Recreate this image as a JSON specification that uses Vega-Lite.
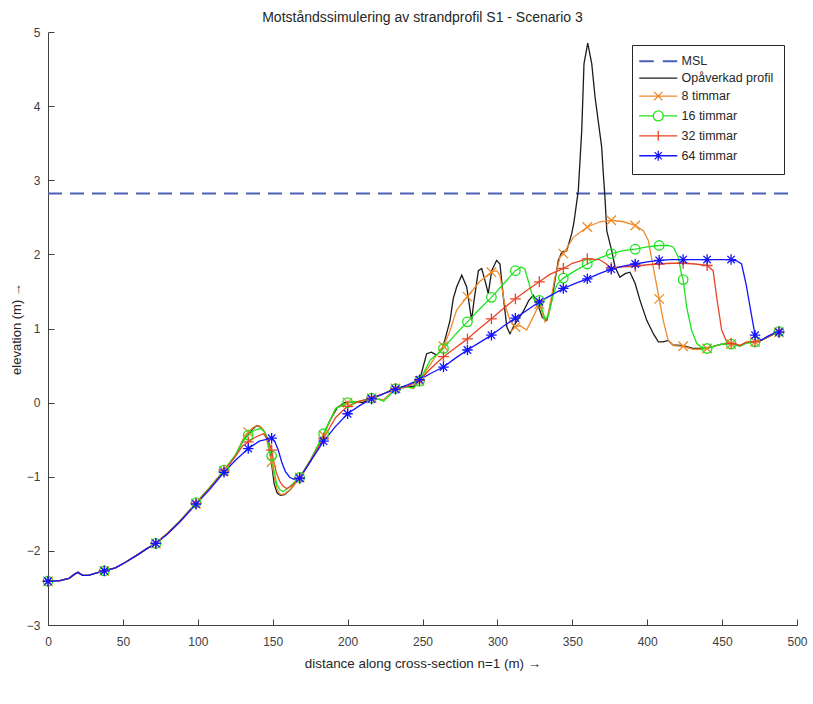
{
  "$schema": "https://vega.github.io/schema/vega-lite/v6.json",
  "width": 749,
  "height": 593,
  "autosize": {"type": "none"},
  "padding": {"left": 48, "top": 32, "right": 16, "bottom": 79},
  "background": "white",
  "config": {"view": {"stroke": null}, "font": "Liberation Sans"},
  "title": {"text": "Motståndssimulering av strandprofil S1 - Scenario 3", "fontSize": 14, "fontWeight": "normal", "color": "#262626", "offset": 1, "anchor": "middle", "font": "Liberation Sans"},
  "data": {"values": [
    {"s":"MSL","x":0,"y":2.82},{"s":"MSL","x":494,"y":2.82},

    {"s":"Opåverkad profil","x":0,"y":-2.41},{"s":"Opåverkad profil","x":8,"y":-2.40},{"s":"Opåverkad profil","x":14,"y":-2.37},{"s":"Opåverkad profil","x":18,"y":-2.31},{"s":"Opåverkad profil","x":20,"y":-2.29},{"s":"Opåverkad profil","x":23,"y":-2.33},{"s":"Opåverkad profil","x":27,"y":-2.33},{"s":"Opåverkad profil","x":32,"y":-2.30},{"s":"Opåverkad profil","x":37.6,"y":-2.27},{"s":"Opåverkad profil","x":45,"y":-2.23},{"s":"Opåverkad profil","x":52,"y":-2.15},{"s":"Opåverkad profil","x":60,"y":-2.05},{"s":"Opåverkad profil","x":66,"y":-1.97},{"s":"Opåverkad profil","x":72,"y":-1.90},{"s":"Opåverkad profil","x":80,"y":-1.76},{"s":"Opåverkad profil","x":88,"y":-1.60},{"s":"Opåverkad profil","x":98.8,"y":-1.36},{"s":"Opåverkad profil","x":108,"y":-1.15},{"s":"Opåverkad profil","x":117.5,"y":-0.92},{"s":"Opåverkad profil","x":125,"y":-0.72},
    {"s":"Opåverkad profil","x":130,"y":-0.52},{"s":"Opåverkad profil","x":134,"y":-0.42},{"s":"Opåverkad profil","x":137,"y":-0.35},{"s":"Opåverkad profil","x":139.5,"y":-0.31},{"s":"Opåverkad profil","x":142,"y":-0.33},{"s":"Opåverkad profil","x":144,"y":-0.38},{"s":"Opåverkad profil","x":146,"y":-0.46},{"s":"Opåverkad profil","x":148,"y":-0.65},{"s":"Opåverkad profil","x":149.5,"y":-0.86},{"s":"Opåverkad profil","x":151,"y":-1.10},{"s":"Opåverkad profil","x":153,"y":-1.22},{"s":"Opåverkad profil","x":155,"y":-1.25},{"s":"Opåverkad profil","x":158,"y":-1.24},{"s":"Opåverkad profil","x":162,"y":-1.17},{"s":"Opåverkad profil","x":168,"y":-1.01},{"s":"Opåverkad profil","x":175,"y":-0.80},{"s":"Opåverkad profil","x":183,"y":-0.47},{"s":"Opåverkad profil","x":188,"y":-0.25},{"s":"Opåverkad profil","x":193,"y":-0.07},{"s":"Opåverkad profil","x":198,"y":0.0},{"s":"Opåverkad profil","x":205,"y":0.01},{"s":"Opåverkad profil","x":210,"y":0.0},{"s":"Opåverkad profil","x":216,"y":0.06},{"s":"Opåverkad profil","x":222,"y":0.10},{"s":"Opåverkad profil","x":228,"y":0.16},{"s":"Opåverkad profil","x":232,"y":0.19},{"s":"Opåverkad profil","x":238,"y":0.22},{"s":"Opåverkad profil","x":244,"y":0.22},{"s":"Opåverkad profil","x":248,"y":0.30},{"s":"Opåverkad profil","x":250,"y":0.45},{"s":"Opåverkad profil","x":252.8,"y":0.66},{"s":"Opåverkad profil","x":256,"y":0.68},{"s":"Opåverkad profil","x":259.4,"y":0.64},{"s":"Opåverkad profil","x":262.8,"y":0.71},{"s":"Opåverkad profil","x":265,"y":0.85},{"s":"Opåverkad profil","x":268.4,"y":1.11},{"s":"Opåverkad profil","x":270.5,"y":1.40},{"s":"Opåverkad profil","x":272.8,"y":1.56},{"s":"Opåverkad profil","x":276.2,"y":1.72},{"s":"Opåverkad profil","x":279.5,"y":1.56},{"s":"Opåverkad profil","x":282.8,"y":1.11},{"s":"Opåverkad profil","x":284.4,"y":1.38},{"s":"Opåverkad profil","x":287.3,"y":1.78},{"s":"Opåverkad profil","x":289.5,"y":1.81},{"s":"Opåverkad profil","x":291.7,"y":1.65},{"s":"Opåverkad profil","x":293.9,"y":1.47},{"s":"Opåverkad profil","x":296.2,"y":1.78},{"s":"Opåverkad profil","x":299.5,"y":1.92},{"s":"Opåverkad profil","x":301.7,"y":1.87},{"s":"Opåverkad profil","x":304,"y":1.42},{"s":"Opåverkad profil","x":306.3,"y":1.02},{"s":"Opåverkad profil","x":308.4,"y":0.93},{"s":"Opåverkad profil","x":310.6,"y":1.02},{"s":"Opåverkad profil","x":313,"y":1.10},{"s":"Opåverkad profil","x":317,"y":1.22},{"s":"Opåverkad profil","x":321,"y":1.38},{"s":"Opåverkad profil","x":324,"y":1.45},{"s":"Opåverkad profil","x":327,"y":1.32},{"s":"Opåverkad profil","x":330,"y":1.15},{"s":"Opåverkad profil","x":332.9,"y":1.11},{"s":"Opåverkad profil","x":336.2,"y":1.38},{"s":"Opåverkad profil","x":340.7,"y":1.92},{"s":"Opåverkad profil","x":343,"y":2.03},{"s":"Opåverkad profil","x":346.3,"y":2.05},{"s":"Opåverkad profil","x":349.6,"y":2.28},{"s":"Opåverkad profil","x":351,"y":2.42},{"s":"Opåverkad profil","x":354,"y":2.86},{"s":"Opåverkad profil","x":356.3,"y":3.67},{"s":"Opåverkad profil","x":357.8,"y":4.57},{"s":"Opåverkad profil","x":360.3,"y":4.85},{"s":"Opåverkad profil","x":363,"y":4.57},{"s":"Opåverkad profil","x":365.2,"y":4.12},{"s":"Opåverkad profil","x":369.6,"y":3.45},{"s":"Opåverkad profil","x":370.7,"y":3.09},{"s":"Opåverkad profil","x":371.8,"y":2.77},{"s":"Opåverkad profil","x":373,"y":2.32},{"s":"Opåverkad profil","x":376.3,"y":2.05},{"s":"Opåverkad profil","x":378.5,"y":1.83},{"s":"Opåverkad profil","x":381.8,"y":1.69},{"s":"Opåverkad profil","x":385.2,"y":1.74},{"s":"Opåverkad profil","x":388.5,"y":1.76},{"s":"Opåverkad profil","x":391.9,"y":1.61},{"s":"Opåverkad profil","x":395.2,"y":1.38},{"s":"Opåverkad profil","x":399.7,"y":1.11},{"s":"Opåverkad profil","x":404.1,"y":0.93},{"s":"Opåverkad profil","x":407.4,"y":0.82},{"s":"Opåverkad profil","x":410.7,"y":0.82},{"s":"Opåverkad profil","x":414,"y":0.84},{"s":"Opåverkad profil","x":417,"y":0.78},{"s":"Opåverkad profil","x":424,"y":0.77},{"s":"Opåverkad profil","x":431,"y":0.73},{"s":"Opåverkad profil","x":437,"y":0.73},{"s":"Opåverkad profil","x":444,"y":0.76},{"s":"Opåverkad profil","x":450,"y":0.79},{"s":"Opåverkad profil","x":456,"y":0.80},{"s":"Opåverkad profil","x":462,"y":0.77},{"s":"Opåverkad profil","x":466,"y":0.81},{"s":"Opåverkad profil","x":472,"y":0.82},{"s":"Opåverkad profil","x":476,"y":0.84},{"s":"Opåverkad profil","x":480,"y":0.88},{"s":"Opåverkad profil","x":484,"y":0.92},{"s":"Opåverkad profil","x":488,"y":0.95},{"s":"Opåverkad profil","x":490,"y":1.0},

    {"s":"8 timmar","x":0,"y":-2.41,"m":1},{"s":"8 timmar","x":8,"y":-2.40},{"s":"8 timmar","x":14,"y":-2.37},{"s":"8 timmar","x":18,"y":-2.31},{"s":"8 timmar","x":20,"y":-2.29},{"s":"8 timmar","x":23,"y":-2.33},{"s":"8 timmar","x":27,"y":-2.33},{"s":"8 timmar","x":32,"y":-2.30},{"s":"8 timmar","x":37.6,"y":-2.27,"m":1},{"s":"8 timmar","x":45,"y":-2.23},{"s":"8 timmar","x":52,"y":-2.15},{"s":"8 timmar","x":60,"y":-2.05},{"s":"8 timmar","x":66,"y":-1.97},{"s":"8 timmar","x":72,"y":-1.90,"m":1},{"s":"8 timmar","x":80,"y":-1.76},{"s":"8 timmar","x":88,"y":-1.60},{"s":"8 timmar","x":98.8,"y":-1.36,"m":1},{"s":"8 timmar","x":108,"y":-1.15},{"s":"8 timmar","x":117.5,"y":-0.92,"m":1},{"s":"8 timmar","x":125,"y":-0.72},
    {"s":"8 timmar","x":130,"y":-0.50},{"s":"8 timmar","x":133.7,"y":-0.40,"m":1},{"s":"8 timmar","x":138,"y":-0.32},{"s":"8 timmar","x":141,"y":-0.31},{"s":"8 timmar","x":144,"y":-0.37},{"s":"8 timmar","x":146,"y":-0.50},{"s":"8 timmar","x":147.5,"y":-0.65},{"s":"8 timmar","x":149.3,"y":-0.80,"m":1},{"s":"8 timmar","x":151,"y":-1.0},{"s":"8 timmar","x":153,"y":-1.17},{"s":"8 timmar","x":155,"y":-1.24},{"s":"8 timmar","x":158,"y":-1.23},{"s":"8 timmar","x":162,"y":-1.17},{"s":"8 timmar","x":168,"y":-1.01,"m":1},{"s":"8 timmar","x":175,"y":-0.78},{"s":"8 timmar","x":184,"y":-0.44,"m":1},{"s":"8 timmar","x":192,"y":-0.08},{"s":"8 timmar","x":200,"y":0.0,"m":1},{"s":"8 timmar","x":208,"y":0.01},{"s":"8 timmar","x":216,"y":0.06,"m":1},{"s":"8 timmar","x":224,"y":0.04},{"s":"8 timmar","x":232,"y":0.19,"m":1},{"s":"8 timmar","x":240,"y":0.21},{"s":"8 timmar","x":244,"y":0.19},{"s":"8 timmar","x":248,"y":0.29,"m":1},{"s":"8 timmar","x":254,"y":0.48},{"s":"8 timmar","x":258,"y":0.60},{"s":"8 timmar","x":264,"y":0.76,"m":1},{"s":"8 timmar","x":268,"y":0.95},{"s":"8 timmar","x":272.8,"y":1.25},{"s":"8 timmar","x":280,"y":1.43,"m":1},{"s":"8 timmar","x":288,"y":1.63},{"s":"8 timmar","x":296,"y":1.76,"m":1},{"s":"8 timmar","x":299.5,"y":1.78},{"s":"8 timmar","x":301.7,"y":1.72},{"s":"8 timmar","x":304.7,"y":1.34},{"s":"8 timmar","x":308.4,"y":1.11},{"s":"8 timmar","x":312,"y":1.02,"m":1},{"s":"8 timmar","x":315,"y":1.04},{"s":"8 timmar","x":319.5,"y":0.98},{"s":"8 timmar","x":324,"y":1.16},{"s":"8 timmar","x":328,"y":1.33,"m":1},{"s":"8 timmar","x":331.8,"y":1.09},{"s":"8 timmar","x":334,"y":1.20},{"s":"8 timmar","x":338.5,"y":1.70},{"s":"8 timmar","x":341.8,"y":1.96},{"s":"8 timmar","x":344,"y":2.01,"m":1},{"s":"8 timmar","x":350.7,"y":2.23},{"s":"8 timmar","x":360,"y":2.37,"m":1},{"s":"8 timmar","x":368.5,"y":2.44},{"s":"8 timmar","x":376,"y":2.46,"m":1},{"s":"8 timmar","x":384.2,"y":2.44},{"s":"8 timmar","x":392,"y":2.39,"m":1},{"s":"8 timmar","x":397.4,"y":2.32},{"s":"8 timmar","x":400.7,"y":2.19},{"s":"8 timmar","x":404,"y":1.83},{"s":"8 timmar","x":408,"y":1.40,"m":1},{"s":"8 timmar","x":410.7,"y":1.11},{"s":"8 timmar","x":414,"y":0.84},{"s":"8 timmar","x":417.4,"y":0.77},{"s":"8 timmar","x":424,"y":0.76,"m":1},{"s":"8 timmar","x":430.8,"y":0.72},{"s":"8 timmar","x":436,"y":0.72},{"s":"8 timmar","x":440,"y":0.73,"m":1},{"s":"8 timmar","x":446,"y":0.77},{"s":"8 timmar","x":452,"y":0.80},{"s":"8 timmar","x":456,"y":0.79,"m":1},{"s":"8 timmar","x":462,"y":0.77},{"s":"8 timmar","x":466,"y":0.81},{"s":"8 timmar","x":472,"y":0.82,"m":1},{"s":"8 timmar","x":476,"y":0.84},{"s":"8 timmar","x":480,"y":0.88},{"s":"8 timmar","x":484,"y":0.92},{"s":"8 timmar","x":488,"y":0.95,"m":1},{"s":"8 timmar","x":490,"y":0.99},

    {"s":"16 timmar","x":0,"y":-2.41,"m":1},{"s":"16 timmar","x":8,"y":-2.40},{"s":"16 timmar","x":14,"y":-2.37},{"s":"16 timmar","x":18,"y":-2.31},{"s":"16 timmar","x":20,"y":-2.29},{"s":"16 timmar","x":23,"y":-2.33},{"s":"16 timmar","x":27,"y":-2.33},{"s":"16 timmar","x":32,"y":-2.30},{"s":"16 timmar","x":37.6,"y":-2.27,"m":1},{"s":"16 timmar","x":45,"y":-2.23},{"s":"16 timmar","x":52,"y":-2.15},{"s":"16 timmar","x":60,"y":-2.05},{"s":"16 timmar","x":66,"y":-1.97},{"s":"16 timmar","x":72,"y":-1.90,"m":1},{"s":"16 timmar","x":80,"y":-1.76},{"s":"16 timmar","x":88,"y":-1.60},{"s":"16 timmar","x":98.8,"y":-1.35,"m":1},{"s":"16 timmar","x":108,"y":-1.14},{"s":"16 timmar","x":117.5,"y":-0.91,"m":1},{"s":"16 timmar","x":125,"y":-0.71},
    {"s":"16 timmar","x":130,"y":-0.52},{"s":"16 timmar","x":133.7,"y":-0.44,"m":1},{"s":"16 timmar","x":138,"y":-0.37},{"s":"16 timmar","x":142,"y":-0.35},{"s":"16 timmar","x":145,"y":-0.40},{"s":"16 timmar","x":147,"y":-0.55},{"s":"16 timmar","x":149.3,"y":-0.72,"m":1},{"s":"16 timmar","x":150.5,"y":-0.88},{"s":"16 timmar","x":152.7,"y":-1.10},{"s":"16 timmar","x":155,"y":-1.18},{"s":"16 timmar","x":157,"y":-1.20},{"s":"16 timmar","x":160,"y":-1.16},{"s":"16 timmar","x":164,"y":-1.08},{"s":"16 timmar","x":168,"y":-1.01,"m":1},{"s":"16 timmar","x":175,"y":-0.78},{"s":"16 timmar","x":184,"y":-0.42,"m":1},{"s":"16 timmar","x":192,"y":-0.08},{"s":"16 timmar","x":200,"y":0.0,"m":1},{"s":"16 timmar","x":208,"y":0.02},{"s":"16 timmar","x":216,"y":0.06,"m":1},{"s":"16 timmar","x":220,"y":0.05},{"s":"16 timmar","x":224,"y":0.02},{"s":"16 timmar","x":228,"y":0.10},{"s":"16 timmar","x":232,"y":0.19,"m":1},{"s":"16 timmar","x":240,"y":0.21},{"s":"16 timmar","x":244,"y":0.20},{"s":"16 timmar","x":248,"y":0.29,"m":1},{"s":"16 timmar","x":255,"y":0.57},{"s":"16 timmar","x":264,"y":0.73,"m":1},{"s":"16 timmar","x":272,"y":0.92},{"s":"16 timmar","x":280,"y":1.09,"m":1},{"s":"16 timmar","x":288,"y":1.26},{"s":"16 timmar","x":296,"y":1.42,"m":1},{"s":"16 timmar","x":304,"y":1.60},{"s":"16 timmar","x":312,"y":1.78,"m":1},{"s":"16 timmar","x":316,"y":1.83},{"s":"16 timmar","x":318.4,"y":1.80},{"s":"16 timmar","x":320.5,"y":1.65},{"s":"16 timmar","x":324,"y":1.40},{"s":"16 timmar","x":328,"y":1.38,"m":1},{"s":"16 timmar","x":331.8,"y":1.13},{"s":"16 timmar","x":334,"y":1.16},{"s":"16 timmar","x":337.4,"y":1.47},{"s":"16 timmar","x":340,"y":1.60},{"s":"16 timmar","x":344,"y":1.68,"m":1},{"s":"16 timmar","x":352,"y":1.78},{"s":"16 timmar","x":360,"y":1.87,"m":1},{"s":"16 timmar","x":368,"y":1.95},{"s":"16 timmar","x":376,"y":2.01,"m":1},{"s":"16 timmar","x":384,"y":2.05},{"s":"16 timmar","x":392,"y":2.07,"m":1},{"s":"16 timmar","x":400,"y":2.10},{"s":"16 timmar","x":408,"y":2.12,"m":1},{"s":"16 timmar","x":414,"y":2.12},{"s":"16 timmar","x":417.4,"y":2.10},{"s":"16 timmar","x":420.8,"y":1.96},{"s":"16 timmar","x":423,"y":1.72},{"s":"16 timmar","x":424,"y":1.66,"m":1},{"s":"16 timmar","x":426.3,"y":1.29},{"s":"16 timmar","x":429.6,"y":0.98},{"s":"16 timmar","x":433,"y":0.80},{"s":"16 timmar","x":436,"y":0.75},{"s":"16 timmar","x":440,"y":0.73,"m":1},{"s":"16 timmar","x":446,"y":0.77},{"s":"16 timmar","x":452,"y":0.80},{"s":"16 timmar","x":456,"y":0.79,"m":1},{"s":"16 timmar","x":462,"y":0.76},{"s":"16 timmar","x":466,"y":0.80},{"s":"16 timmar","x":472,"y":0.82,"m":1},{"s":"16 timmar","x":476,"y":0.84},{"s":"16 timmar","x":480,"y":0.88},{"s":"16 timmar","x":484,"y":0.92},{"s":"16 timmar","x":488,"y":0.96,"m":1},{"s":"16 timmar","x":490,"y":0.99},

    {"s":"32 timmar","x":0,"y":-2.41,"m":1},{"s":"32 timmar","x":8,"y":-2.40},{"s":"32 timmar","x":14,"y":-2.37},{"s":"32 timmar","x":18,"y":-2.31},{"s":"32 timmar","x":20,"y":-2.29},{"s":"32 timmar","x":23,"y":-2.33},{"s":"32 timmar","x":27,"y":-2.33},{"s":"32 timmar","x":32,"y":-2.30},{"s":"32 timmar","x":37.6,"y":-2.27,"m":1},{"s":"32 timmar","x":45,"y":-2.23},{"s":"32 timmar","x":52,"y":-2.15},{"s":"32 timmar","x":60,"y":-2.05},{"s":"32 timmar","x":66,"y":-1.97},{"s":"32 timmar","x":72,"y":-1.90,"m":1},{"s":"32 timmar","x":80,"y":-1.76},{"s":"32 timmar","x":88,"y":-1.60},{"s":"32 timmar","x":98.8,"y":-1.36,"m":1},{"s":"32 timmar","x":108,"y":-1.15},{"s":"32 timmar","x":117.5,"y":-0.92,"m":1},{"s":"32 timmar","x":125,"y":-0.73},
    {"s":"32 timmar","x":130,"y":-0.58},{"s":"32 timmar","x":133.7,"y":-0.53,"m":1},{"s":"32 timmar","x":138,"y":-0.47},{"s":"32 timmar","x":143.7,"y":-0.42},{"s":"32 timmar","x":147,"y":-0.50},{"s":"32 timmar","x":149.3,"y":-0.64,"m":1},{"s":"32 timmar","x":150.4,"y":-0.77},{"s":"32 timmar","x":152.5,"y":-0.95},{"s":"32 timmar","x":154.9,"y":-1.07},{"s":"32 timmar","x":157,"y":-1.13},{"s":"32 timmar","x":159.3,"y":-1.16},{"s":"32 timmar","x":163,"y":-1.12},{"s":"32 timmar","x":168,"y":-1.02,"m":1},{"s":"32 timmar","x":175,"y":-0.79},{"s":"32 timmar","x":184,"y":-0.48,"m":1},{"s":"32 timmar","x":192,"y":-0.20},{"s":"32 timmar","x":200,"y":-0.05,"m":1},{"s":"32 timmar","x":208,"y":0.02},{"s":"32 timmar","x":216,"y":0.06,"m":1},{"s":"32 timmar","x":224,"y":0.12},{"s":"32 timmar","x":232,"y":0.19,"m":1},{"s":"32 timmar","x":240,"y":0.22},{"s":"32 timmar","x":248,"y":0.30,"m":1},{"s":"32 timmar","x":256,"y":0.47},{"s":"32 timmar","x":264,"y":0.62,"m":1},{"s":"32 timmar","x":272,"y":0.74},{"s":"32 timmar","x":280,"y":0.86,"m":1},{"s":"32 timmar","x":288,"y":1.00},{"s":"32 timmar","x":296,"y":1.13,"m":1},{"s":"32 timmar","x":304,"y":1.27},{"s":"32 timmar","x":312,"y":1.40,"m":1},{"s":"32 timmar","x":320,"y":1.52},{"s":"32 timmar","x":328,"y":1.63,"m":1},{"s":"32 timmar","x":335,"y":1.73},{"s":"32 timmar","x":344,"y":1.81,"m":1},{"s":"32 timmar","x":350,"y":1.88},{"s":"32 timmar","x":360,"y":1.94,"m":1},{"s":"32 timmar","x":368,"y":1.93},{"s":"32 timmar","x":372,"y":1.88},{"s":"32 timmar","x":376,"y":1.82,"m":1},{"s":"32 timmar","x":384,"y":1.83},{"s":"32 timmar","x":392,"y":1.84,"m":1},{"s":"32 timmar","x":400,"y":1.86},{"s":"32 timmar","x":408,"y":1.87,"m":1},{"s":"32 timmar","x":416,"y":1.88},{"s":"32 timmar","x":424,"y":1.88,"m":1},{"s":"32 timmar","x":432,"y":1.87},{"s":"32 timmar","x":440,"y":1.85,"m":1},{"s":"32 timmar","x":444,"y":1.78},{"s":"32 timmar","x":446.4,"y":1.42},{"s":"32 timmar","x":449.7,"y":0.98},{"s":"32 timmar","x":453,"y":0.82},{"s":"32 timmar","x":456,"y":0.80,"m":1},{"s":"32 timmar","x":462,"y":0.77},{"s":"32 timmar","x":466.4,"y":0.82},{"s":"32 timmar","x":472,"y":0.82,"m":1},{"s":"32 timmar","x":476,"y":0.84},{"s":"32 timmar","x":480,"y":0.88},{"s":"32 timmar","x":484,"y":0.92},{"s":"32 timmar","x":488,"y":0.95,"m":1},{"s":"32 timmar","x":490,"y":0.99},

    {"s":"64 timmar","x":0,"y":-2.41,"m":1},{"s":"64 timmar","x":8,"y":-2.40},{"s":"64 timmar","x":14,"y":-2.37},{"s":"64 timmar","x":18,"y":-2.31},{"s":"64 timmar","x":20,"y":-2.29},{"s":"64 timmar","x":23,"y":-2.33},{"s":"64 timmar","x":27,"y":-2.33},{"s":"64 timmar","x":32,"y":-2.30},{"s":"64 timmar","x":37.6,"y":-2.27,"m":1},{"s":"64 timmar","x":45,"y":-2.23},{"s":"64 timmar","x":52,"y":-2.15},{"s":"64 timmar","x":60,"y":-2.05},{"s":"64 timmar","x":66,"y":-1.97},{"s":"64 timmar","x":72,"y":-1.90,"m":1},{"s":"64 timmar","x":80,"y":-1.77},{"s":"64 timmar","x":88,"y":-1.61},{"s":"64 timmar","x":98.8,"y":-1.37,"m":1},{"s":"64 timmar","x":108,"y":-1.17},{"s":"64 timmar","x":117.5,"y":-0.94,"m":1},{"s":"64 timmar","x":125,"y":-0.78},{"s":"64 timmar","x":133.7,"y":-0.62,"m":1},{"s":"64 timmar","x":141,"y":-0.52},{"s":"64 timmar","x":149.3,"y":-0.48,"m":1},{"s":"64 timmar","x":151.5,"y":-0.53},{"s":"64 timmar","x":153.7,"y":-0.64},{"s":"64 timmar","x":156,"y":-0.80},{"s":"64 timmar","x":158.5,"y":-0.93},{"s":"64 timmar","x":161.5,"y":-1.01},{"s":"64 timmar","x":165,"y":-1.04},{"s":"64 timmar","x":168,"y":-1.02,"m":1},{"s":"64 timmar","x":175,"y":-0.80},{"s":"64 timmar","x":184,"y":-0.52,"m":1},{"s":"64 timmar","x":192,"y":-0.32},{"s":"64 timmar","x":200,"y":-0.15,"m":1},{"s":"64 timmar","x":208,"y":-0.04},{"s":"64 timmar","x":216,"y":0.05,"m":1},{"s":"64 timmar","x":224,"y":0.12},{"s":"64 timmar","x":232,"y":0.18,"m":1},{"s":"64 timmar","x":240,"y":0.24},{"s":"64 timmar","x":248,"y":0.31,"m":1},{"s":"64 timmar","x":256,"y":0.40},{"s":"64 timmar","x":264,"y":0.48,"m":1},{"s":"64 timmar","x":272,"y":0.60},{"s":"64 timmar","x":280,"y":0.71,"m":1},{"s":"64 timmar","x":288,"y":0.81},{"s":"64 timmar","x":296,"y":0.91,"m":1},{"s":"64 timmar","x":304,"y":1.03},{"s":"64 timmar","x":312,"y":1.14,"m":1},{"s":"64 timmar","x":320,"y":1.25},{"s":"64 timmar","x":328,"y":1.36,"m":1},{"s":"64 timmar","x":336,"y":1.45},{"s":"64 timmar","x":344,"y":1.54,"m":1},{"s":"64 timmar","x":352,"y":1.61},{"s":"64 timmar","x":360,"y":1.67,"m":1},{"s":"64 timmar","x":368,"y":1.74},{"s":"64 timmar","x":376,"y":1.80,"m":1},{"s":"64 timmar","x":384,"y":1.84},{"s":"64 timmar","x":392,"y":1.87,"m":1},{"s":"64 timmar","x":400,"y":1.90},{"s":"64 timmar","x":408,"y":1.92,"m":1},{"s":"64 timmar","x":416,"y":1.93},{"s":"64 timmar","x":424,"y":1.93,"m":1},{"s":"64 timmar","x":432,"y":1.93},{"s":"64 timmar","x":440,"y":1.93,"m":1},{"s":"64 timmar","x":448,"y":1.93},{"s":"64 timmar","x":456,"y":1.93,"m":1},{"s":"64 timmar","x":460,"y":1.91},{"s":"64 timmar","x":463,"y":1.87},{"s":"64 timmar","x":466,"y":1.60},{"s":"64 timmar","x":469.8,"y":1.16},{"s":"64 timmar","x":472,"y":0.91,"m":1},{"s":"64 timmar","x":476,"y":0.84},{"s":"64 timmar","x":480,"y":0.89},{"s":"64 timmar","x":484,"y":0.93},{"s":"64 timmar","x":488,"y":0.95,"m":1},{"s":"64 timmar","x":490,"y":0.99}
  ]},
  "encoding": {
    "x": {"field": "x", "type": "quantitative",
      "scale": {"domain": [0, 500], "nice": false, "zero": false},
      "axis": {"title": "distance along cross-section n=1 (m) →", "values": [0,50,100,150,200,250,300,350,400,450,500], "grid": false, "tickSize": -6, "labelPadding": 17, "domainColor": "#404040", "tickColor": "#404040", "labelColor": "#404040", "labelFont": "Liberation Sans", "labelFontSize": 12, "titleFont": "Liberation Sans", "titleFontSize": 13.4, "titleFontWeight": "normal", "titleColor": "#262626", "titlePadding": 9, "labelFlush": false}},
    "y": {"field": "y", "type": "quantitative",
      "scale": {"domain": [-3, 5], "nice": false, "zero": false},
      "axis": {"title": "elevation (m) →", "values": [-3,-2,-1,0,1,2,3,4,5], "grid": false, "tickSize": -6, "labelPadding": 14, "domainColor": "#404040", "tickColor": "#404040", "labelColor": "#404040", "labelFont": "Liberation Sans", "labelFontSize": 12, "titleFont": "Liberation Sans", "titleFontSize": 13, "titleFontWeight": "normal", "titleColor": "#262626", "titlePadding": 3, "labelFlush": false}},
    "color": {"field": "s", "type": "nominal",
      "scale": {"domain": ["MSL", "Opåverkad profil", "8 timmar", "16 timmar", "32 timmar", "64 timmar"], "range": ["#4a62b5", "#1c1c1c", "#ee8b2c", "#1ee31e", "#e84427", "#1414ff"]},
      "legend": {"title": null, "orient": "top-right", "offset": 13, "strokeColor": "#262626", "fillColor": "white", "padding": 10, "labelFont": "Liberation Sans", "labelFontSize": 12.5, "labelColor": "#262626", "symbolSize": 400, "symbolStrokeWidth": 1.3, "labelOffset": 17, "symbolOffset": 10, "rowPadding": 3.9,
        "encode": {"symbols": {"update": {
          "shape": {"signal": "datum.value === 'MSL' ? 'M-1.9,0L-0.45,0M0.45,0L1.9,0' : datum.value === 'Opåverkad profil' ? 'M-1.9,0L1.9,0' : datum.value === '8 timmar' ? 'M-1.9,0L1.9,0M-0.42,-0.42L0.42,0.42M-0.42,0.42L0.42,-0.42' : datum.value === '16 timmar' ? 'M-1.9,0L-0.5,0M0.5,0L1.9,0M0.5,0A0.5,0.5,0,1,1,-0.5,0A0.5,0.5,0,1,1,0.5,0' : datum.value === '32 timmar' ? 'M-1.9,0L1.9,0M0,-0.5L0,0.5' : 'M-1.9,0L1.9,0M0,-0.5L0,0.5M-0.36,-0.36L0.36,0.36M-0.36,0.36L0.36,-0.36'"},
          "size": {"value": 400},
          "fill": {"value": "transparent"},
          "strokeWidth": {"signal": "datum.value === 'MSL' ? 2 : 1.3"},
          "opacity": {"value": 1}
        }}}}
    }
  },
  "layer": [
    {"transform": [{"filter": "datum.s === 'MSL'"}], "mark": {"type": "line", "strokeDash": [14, 8], "strokeWidth": 2}},
    {"transform": [{"filter": "datum.s !== 'MSL'"}], "mark": {"type": "line", "strokeWidth": 1.3}},
    {"transform": [{"filter": "datum.m === 1"}], "mark": {"type": "point", "filled": false, "size": 90, "strokeWidth": 1.3, "opacity": 1},
      "encoding": {"shape": {"field": "s", "type": "nominal", "legend": null,
        "scale": {"domain": ["8 timmar", "16 timmar", "32 timmar", "64 timmar"], "range": ["M-1,-1L1,1M-1,1L1,-1", "circle", "M-1.15,0L1.15,0M0,-1.15L0,1.15", "M-1.1,0L1.1,0M0,-1.1L0,1.1M-0.78,-0.78L0.78,0.78M-0.78,0.78L0.78,-0.78"]}}}}
  ]
}
